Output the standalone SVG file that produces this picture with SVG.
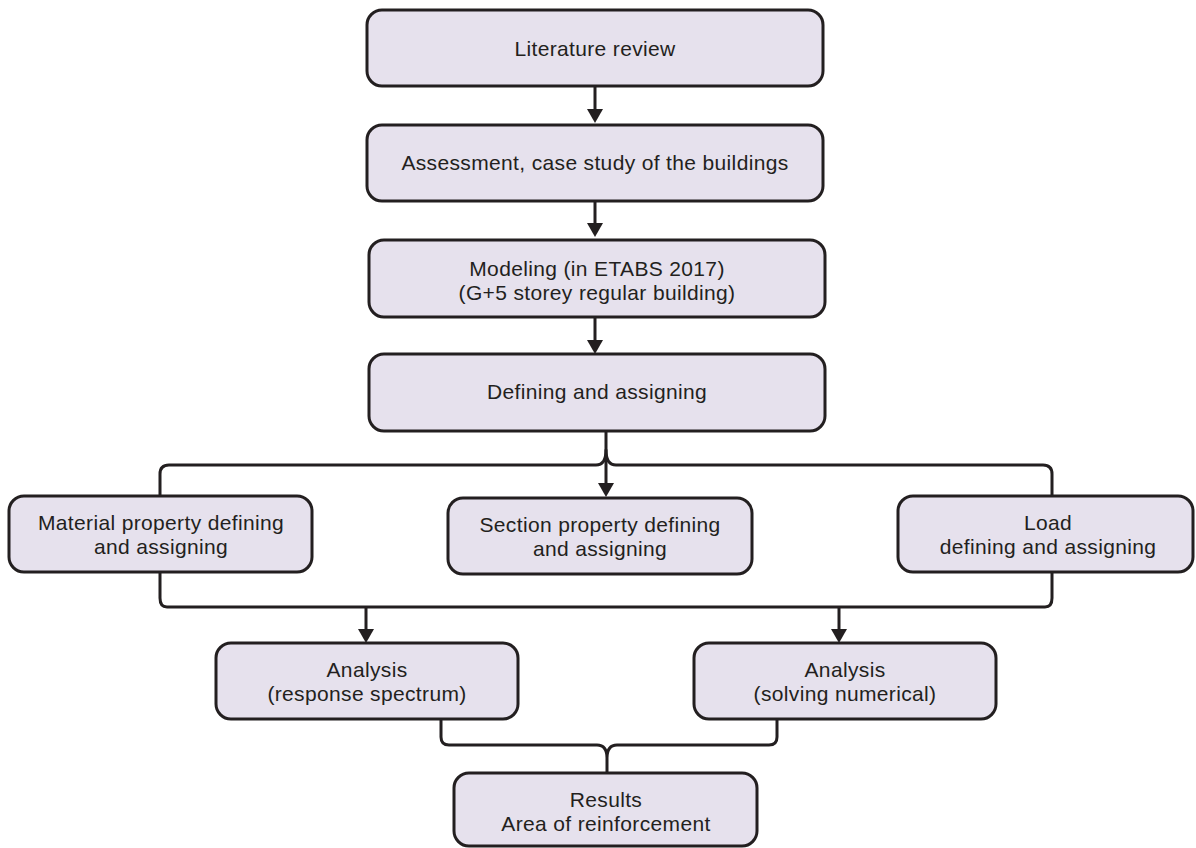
<svg xmlns="http://www.w3.org/2000/svg" width="1196" height="848" viewBox="0 0 1196 848">
<style>
.box{fill:#e6e1ed;stroke:#231f20;stroke-width:3}
.t{font-family:"Liberation Sans",Arial,sans-serif;font-size:21px;letter-spacing:0.35px;fill:#231f20;text-anchor:middle}
.ln{fill:none;stroke:#231f20;stroke-width:3;stroke-linejoin:round}
.ah{fill:#231f20}
</style>
<rect width="1196" height="848" fill="#ffffff"/>
<g id="connectors">
<path class="ln" d="M595,86 L595,109"/><path class="ah" d="M587,109 L603,109 L595,123 Z"/>
<path class="ln" d="M595,201 L595,223"/><path class="ah" d="M587,223 L603,223 L595,237 Z"/>
<path class="ln" d="M595,317 L595,340"/><path class="ah" d="M587,340 L603,340 L595,354 Z"/>
<path class="ln" d="M167,607 Q160,607 160,598 L160,474 Q160,465 169,465 L596,465 Q606,465 606,450 Q606,465 616,465 L1043,465 Q1052,465 1052,474 L1052,598 Q1052,607 1045,607 Z"/>
<path class="ln" d="M606,431 L606,483"/><path class="ah" d="M598,483 L614,483 L606,497 Z"/>
<path class="ln" d="M366,607 L366,629"/><path class="ah" d="M358,629 L374,629 L366,643 Z"/>
<path class="ln" d="M839,607 L839,629"/><path class="ah" d="M831,629 L847,629 L839,643 Z"/>
<path class="ln" d="M441,719 L441,737 Q441,745 449,745 L597,745 Q607,745 607,758 L607,773 M777,719 L777,737 Q777,745 769,745 L617,745 Q607,745 607,758"/>
</g>
<g id="n1"><rect class="box" x="367" y="10" width="456" height="76" rx="15"/><text class="t" x="595" y="56">Literature review</text></g>
<g id="n2"><rect class="box" x="367" y="125" width="456" height="76" rx="15"/><text class="t" x="595" y="170">Assessment, case study of the buildings</text></g>
<g id="n3"><rect class="box" x="369" y="240" width="456" height="77" rx="15"/><text class="t" x="597" y="276">Modeling (in ETABS 2017)</text><text class="t" x="597" y="300">(G+5 storey regular building)</text></g>
<g id="n4"><rect class="box" x="369" y="354" width="456" height="77" rx="15"/><text class="t" x="597" y="399">Defining and assigning</text></g>
<g id="n5"><rect class="box" x="9" y="496" width="303" height="76" rx="15"/><text class="t" x="161" y="530">Material property defining</text><text class="t" x="161" y="554">and assigning</text></g>
<g id="n6"><rect class="box" x="448" y="498" width="304" height="76" rx="15"/><text class="t" x="600" y="532">Section property defining</text><text class="t" x="600" y="556">and assigning</text></g>
<g id="n7"><rect class="box" x="898" y="496" width="295" height="76" rx="15"/><text class="t" x="1048" y="530">Load</text><text class="t" x="1048" y="554">defining and assigning</text></g>
<g id="n8"><rect class="box" x="216" y="643" width="302" height="76" rx="15"/><text class="t" x="367" y="677">Analysis</text><text class="t" x="367" y="701">(response spectrum)</text></g>
<g id="n9"><rect class="box" x="694" y="643" width="302" height="76" rx="15"/><text class="t" x="845" y="677">Analysis</text><text class="t" x="845" y="701">(solving numerical)</text></g>
<g id="n10"><rect class="box" x="454" y="773" width="303" height="73" rx="15"/><text class="t" x="606" y="807">Results</text><text class="t" x="606" y="831">Area of reinforcement</text></g>
</svg>
